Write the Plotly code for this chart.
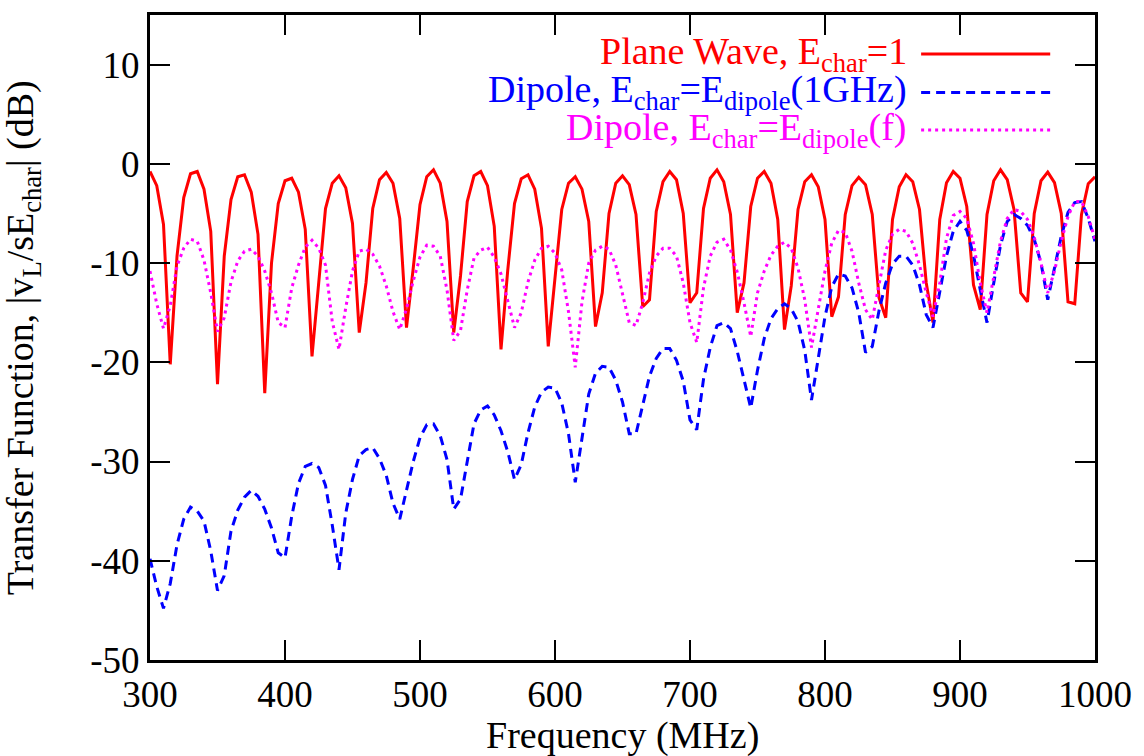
import plotly.graph_objects as go

# Frequency grid (MHz), 5 MHz samples
freq_mhz = list(range(300, 1005, 5))

# Plane wave, E_char = 1  (dB)
plane_wave_db = [
    -0.77, -2.2, -6.1, -20.2, -9.3, -3.4, -1.0, -0.77, -2.55, -6.8,
    -22.2, -9.3, -3.6, -1.3, -1.1, -2.85, -7.1, -23.1, -10.0, -4.0,
    -1.7, -1.45, -2.85, -6.6, -19.4, -11.7, -4.5, -1.95, -1.2, -2.4,
    -6.0, -17.0, -12.0, -4.5, -1.6, -0.87, -1.95, -5.5, -16.5, -10.5,
    -4.1, -1.3, -0.6, -1.95, -5.8, -17.0, -11.3, -3.8, -1.2, -0.77,
    -2.2, -6.3, -18.7, -10.7, -4.0, -1.5, -1.1, -2.55, -6.5, -18.4,
    -11.3, -4.6, -1.95, -1.3, -2.55, -5.8, -16.4, -13.0, -5.0, -1.95,
    -1.2, -2.1, -5.1, -14.4, -13.7, -4.8, -1.8, -0.77, -1.6, -5.0,
    -14.0, -13.0, -4.5, -1.45, -0.6, -1.8, -5.1, -15.0, -12.0, -4.3,
    -1.45, -0.77, -1.95, -5.6, -16.7, -12.3, -4.6, -1.8, -1.1, -2.3,
    -5.6, -15.4, -13.4, -5.1, -2.2, -1.35, -2.1, -5.1, -13.5, -15.5,
    -5.6, -2.3, -1.1, -1.8, -4.6, -12.0, -16.0, -5.6, -1.9, -0.77,
    -1.45, -4.3, -12.2, -14.7, -5.1, -1.7, -0.6, -1.6, -4.6, -13.0,
    -13.9, -5.0, -1.7, -0.84, -1.9, -5.0, -13.9, -14.1, -5.1, -2.0,
    -1.3,
]

# Dipole, E_char = E_dipole(1GHz)  (dB)
dipole_1ghz_db = [
    -39.8, -42.6, -44.8, -42.3, -38.4, -35.8, -34.6, -35.0, -36.0, -39.0,
    -43.0, -41.5, -37.0, -34.9, -33.6, -32.9, -33.5, -34.8, -36.7, -39.2,
    -39.7, -35.5, -32.2, -30.5, -30.2, -30.6, -32.4, -36.4, -40.9, -35.2,
    -31.8, -29.4, -28.8, -28.6, -29.7, -31.4, -34.2, -35.8, -32.9, -30.0,
    -27.6, -26.3, -26.2, -27.4, -29.8, -34.8, -33.8, -29.9, -26.2, -24.8,
    -24.4, -25.3, -26.9, -29.0, -31.8, -30.3, -27.1, -24.5, -23.0, -22.5,
    -22.6, -24.1, -27.2, -32.1, -27.8, -23.2, -21.1, -20.4, -20.5, -21.8,
    -24.0, -27.2, -27.2, -24.2, -21.4, -19.6, -18.6, -18.6, -19.8, -21.9,
    -25.8, -26.8, -21.7, -18.5, -16.3, -16.0, -16.6, -18.9, -21.6, -24.6,
    -20.8, -17.6, -15.6, -14.6, -14.1, -14.6, -15.9, -18.8, -23.8, -19.6,
    -15.4, -12.4, -11.1, -11.3, -12.5, -15.0, -19.0, -18.4, -14.8, -12.0,
    -10.1, -9.3, -9.3, -10.2, -12.2, -15.2, -16.5, -12.9, -9.3, -6.8,
    -5.8, -6.7, -9.2, -12.7, -16.0, -12.0, -8.2, -5.8, -5.1, -5.5,
    -6.2, -7.6, -10.0, -13.7, -10.5, -7.3, -4.9, -3.9, -3.8, -5.5,
    -7.8,
]

# Dipole, E_char = E_dipole(f)  (dB)
dipole_f_db = [
    -10.8, -14.1, -16.6, -14.3, -10.3, -8.5, -7.6, -7.8, -9.7, -13.0,
    -16.9, -15.5, -11.9, -9.8, -8.8, -8.6, -9.3, -10.8, -13.0, -16.0,
    -16.5, -12.5, -10.2, -8.4, -7.7, -8.5, -10.2, -15.9, -18.7, -14.5,
    -10.8, -8.8, -8.6, -9.1, -10.3, -12.3, -14.9, -16.7, -14.6, -11.8,
    -9.4, -8.2, -8.3, -9.3, -12.7, -17.8, -16.8, -12.7, -9.5, -8.7,
    -8.4, -9.4, -11.1, -13.7, -16.5, -15.0, -11.9, -9.7, -8.5, -8.3,
    -9.0, -10.7, -14.9, -20.5, -13.9, -10.0, -8.7, -8.3, -8.6, -10.2,
    -13.0, -16.0, -16.3, -14.0, -11.0, -9.3, -8.5, -8.5, -9.3, -12.0,
    -16.0, -18.0, -12.5, -9.3, -7.9, -7.6, -8.7, -10.9, -14.0, -17.4,
    -13.0, -10.8, -9.2, -8.3, -7.9, -8.5, -10.5, -13.7, -18.5, -14.5,
    -10.8, -8.0, -6.7, -6.9, -8.8, -12.0, -14.7, -15.7, -12.0, -8.7,
    -7.1, -6.6, -6.8, -8.0, -10.2, -13.0, -15.4, -12.0, -7.5, -5.2,
    -4.8, -5.5, -8.0, -12.0, -15.0, -11.5, -7.8, -5.5, -4.6, -4.8,
    -5.6, -7.4, -10.0, -13.0, -10.8, -7.8, -5.3, -3.8, -3.8, -5.3,
    -7.65,
]

series_labels = [
    "Plane Wave, E<sub>char</sub>=1",
    "Dipole, E<sub>char</sub>=E<sub>dipole</sub>(1GHz)",
    "Dipole, E<sub>char</sub>=E<sub>dipole</sub>(f)",
]
series_colors = ["#ff0000", "#0000ff", "#ff00ff"]
series_dash = ["solid", "9px,6px", "3px,4px"]
series_values = [plane_wave_db, dipole_1ghz_db, dipole_f_db]

x_ticks = [300, 400, 500, 600, 700, 800, 900, 1000]
y_ticks = [-50, -40, -30, -20, -10, 0, 10]

FONT = "Liberation Serif"
FS = 38

fig = go.Figure()
for vals, col, dash, name in zip(series_values, series_colors, series_dash, series_labels):
    fig.add_trace(go.Scatter(
        x=freq_mhz, y=vals, mode="lines", name=name,
        line=dict(color=col, width=3, dash=dash),
        showlegend=False, hoverinfo="skip",
    ))

axis_common = dict(
    showline=True, linecolor="black", linewidth=3, mirror="ticks",
    ticks="inside", ticklen=20, tickwidth=2, tickcolor="black",
    showgrid=False, zeroline=False,
    tickfont=dict(family=FONT, size=FS - 1, color="black"),
)

fig.update_xaxes(range=[300, 1000], tickvals=x_ticks,
                 ticktext=[str(v) for v in x_ticks], **axis_common)
fig.update_yaxes(range=[-50, 15], tickvals=y_ticks,
                 ticktext=[str(v) for v in y_ticks], **axis_common)

annotations = []
shapes = []
legend_rows_y = [0.9395, 0.880, 0.8217]
for label, col, dash, yy in zip(series_labels, series_colors, series_dash, legend_rows_y):
    annotations.append(dict(
        xref="paper", yref="paper", x=0.803, y=yy, xanchor="right", yanchor="middle",
        text=label, showarrow=False,
        font=dict(family=FONT, size=FS, color=col),
    ))
    shapes.append(dict(
        type="line", xref="paper", yref="paper", x0=0.816, x1=0.9526, y0=yy, y1=yy,
        line=dict(color=col, width=3, dash=dash),
    ))

annotations.append(dict(
    xref="paper", yref="paper", x=0.5, y=-0.1163, xanchor="center", yanchor="middle",
    text="Frequency (MHz)", showarrow=False,
    font=dict(family=FONT, size=FS, color="black"),
))
annotations.append(dict(
    xref="paper", yref="paper", x=-0.1347, y=0.5, xanchor="center", yanchor="middle",
    text="Transfer Function, |v<sub>L</sub>/sE<sub>char</sub>| (dB)", showarrow=False,
    textangle=-90,
    font=dict(family=FONT, size=FS, color="black"),
))

fig.update_layout(
    width=1144, height=756,
    margin=dict(l=150, r=44, t=15, b=96),
    paper_bgcolor="white", plot_bgcolor="white",
    font=dict(family=FONT, size=FS, color="black"),
    annotations=annotations, shapes=shapes,
    showlegend=False,
)

fig.write_html("out.html")
